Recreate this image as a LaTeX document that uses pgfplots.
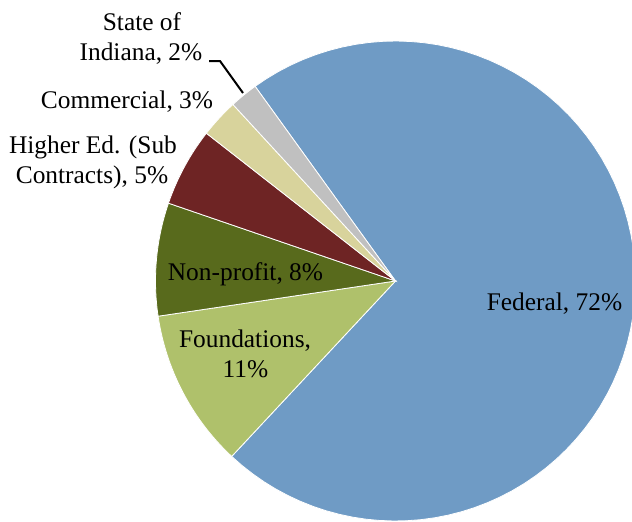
\documentclass[border=0pt]{standalone}
\usepackage{fontspec}
\setmainfont{Liberation Serif}
\usepackage{pgfplots}
\pgfplotsset{compat=1.18}

\definecolor{federal}{RGB}{111,155,197}
\definecolor{found}{RGB}{175,193,107}
\definecolor{nonprofit}{RGB}{88,106,28}
\definecolor{highered}{RGB}{110,36,36}
\definecolor{commercial}{RGB}{216,211,156}
\definecolor{stateind}{RGB}{192,192,192}

\tikzset{lbl/.style={font=\fontsize{12.7}{15}\selectfont, anchor=base, inner sep=0pt}}

% pie geometry in picture pixels (y up)
\def\cx{395.5}
\def\cy{240}
\def\rad{240}
\pgfmathsetmacro\angle{125.8} % first slice starts here, going clockwise

% #1 share in percent, #2 colour
\newcommand{\slice}[2]{%
  \pgfmathsetmacro\endangle{\angle-3.6*#1}
  \addplot[fill=#2, draw=white, line width=0.4pt, domain=\endangle:\angle,
           samples=80, variable=\t]
    ({\cx+\rad*cos(\t)}, {\cy+\rad*sin(\t)}) -- (axis cs:\cx,\cy) -- cycle;
  \global\let\angle\endangle
}

\begin{document}
\begin{tikzpicture}
\begin{axis}[
    hide axis, scale only axis,
    width=316pt, height=260.5pt,
    xmin=0, xmax=632, ymin=0, ymax=521,
    clip=true,
]
    \slice{71.9}{federal}
    \slice{10.7}{found}
    \slice{7.6}{nonprofit}
    \slice{5.3}{highered}
    \slice{2.6}{commercial}
    \slice{1.9}{stateind}

    % leader line for the small slice
    \addplot[black, line width=1pt] coordinates {(209,460) (220,460) (243,428)};

    \node[lbl] at (axis cs:142,491) {State of};
    \node[lbl] at (axis cs:141,461) {Indiana, 2\%};
    \node[lbl] at (axis cs:127,413) {Commercial, 3\%};
    \node[lbl] at (axis cs:93,368) {Higher Ed. (Sub};
    \node[lbl] at (axis cs:92,338) {Contracts), 5\%};
    \node[lbl] at (axis cs:245.5,241) {Non-profit, 8\%};
    \node[lbl] at (axis cs:245,174) {Foundations,};
    \node[lbl] at (axis cs:245.5,144) {11\%};
    \node[lbl] at (axis cs:554.5,211) {Federal, 72\%};
\end{axis}
\pgfresetboundingbox
\path (current axis.south west) rectangle (current axis.north east);
\end{tikzpicture}
\end{document}
